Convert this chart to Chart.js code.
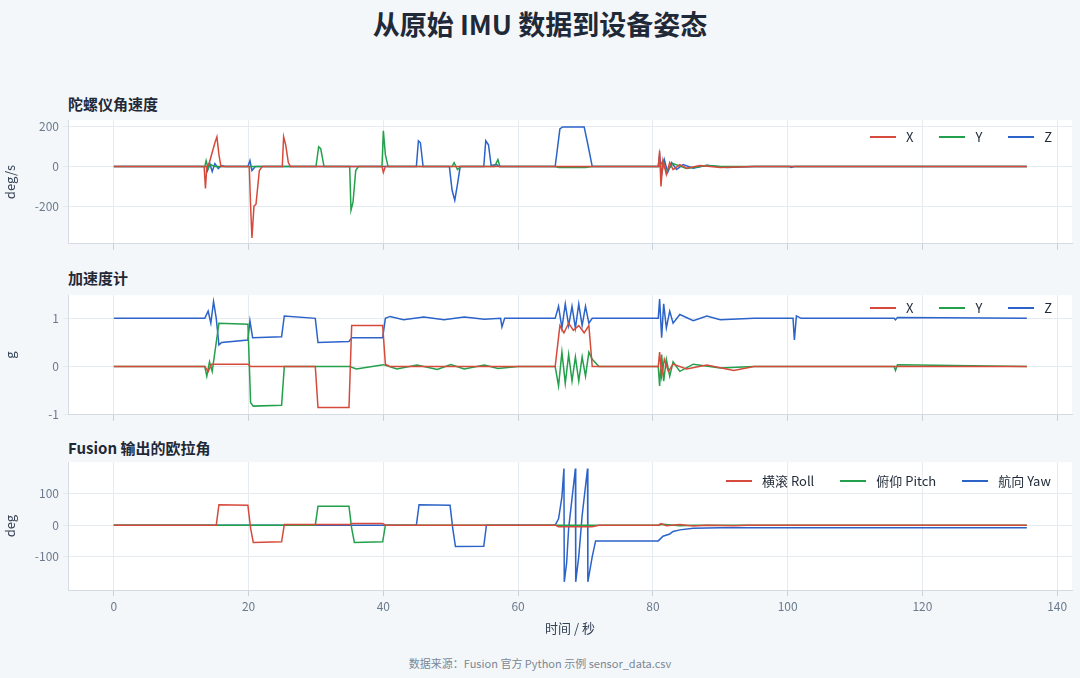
<!DOCTYPE html>
<html><head><meta charset="utf-8">
<script src="https://cdn.jsdelivr.net/npm/chart.js@4.4.1/dist/chart.umd.min.js"></script>
<style>
body{margin:0;width:1080px;height:678px;background:#f4f7fa;font-family:"Noto Sans CJK SC","Noto Sans",sans-serif;position:relative;overflow:hidden}
.box{position:absolute;left:0;width:1080px}
.t{position:absolute;left:68px;font-weight:bold;font-size:15px;color:#1f2937}
.lg{position:absolute;font-size:13px;color:#1f2937;display:flex;gap:26px}
.lg span{display:flex;align-items:center}
.lg i{display:inline-block;width:26px;height:2px;margin-right:10px}
</style></head><body>
<div style="position:absolute;top:4px;width:1080px;text-align:center;font-size:27px;font-weight:bold;color:#1f2937">从原始 IMU 数据到设备姿态</div>
<div class="t" style="top:93px">陀螺仪角速度</div>
<div class="t" style="top:267px">加速度计</div>
<div class="t" style="top:437px">Fusion 输出的欧拉角</div>
<div class="box" style="top:109px;height:146px"><canvas id="c1"></canvas></div>
<div class="box" style="top:284px;height:142px"><canvas id="c2"></canvas></div>
<div class="box" style="top:451px;height:189px"><canvas id="c3"></canvas></div>
<div class="lg" style="top:127px;left:870px"><span><i style="background:#d64a3b"></i>X</span><span><i style="background:#22a04b"></i>Y</span><span><i style="background:#2b63c9"></i>Z</span></div>
<div class="lg" style="top:298px;left:870px"><span><i style="background:#d64a3b"></i>X</span><span><i style="background:#22a04b"></i>Y</span><span><i style="background:#2b63c9"></i>Z</span></div>
<div class="lg" style="top:471px;left:726px"><span><i style="background:#d64a3b"></i>横滚 Roll</span><span><i style="background:#22a04b"></i>俯仰 Pitch</span><span><i style="background:#2b63c9"></i>航向 Yaw</span></div>
<div style="position:absolute;top:655px;width:1080px;text-align:center;font-size:11px;color:#7b8794">数据来源：Fusion 官方 Python 示例 sensor_data.csv</div>
<script>
const gxT=[0,13.4,13.6,13.8,14.1,15,15.3,15.6,15.9,16.3,20.1,20.3,20.5,20.8,21.1,21.6,22,25,25.2,25.5,25.9,26.2,39.8,40,40.3,80.8,81,81.2,81.5,82,82.5,83,84,85,87,90,95,135.5];
const gxV=[0,0,-110,0,10,120,150,60,0,0,0,-200,-360,-200,-190,-20,0,0,150,110,20,0,0,-30,0,0,80,-100,30,-40,20,-15,10,-8,5,-5,0,0];
const gyT=[0,13.5,13.7,14,14.3,15,30,30.4,30.7,31.2,35,35.2,35.5,35.9,36.3,39.8,40,40.3,40.7,41,50.2,50.5,51,51.5,56.5,57,57.3,65.5,66,70,71,81,81.5,82,83,85,88,90,135.5];
const gyV=[0,0,30,-10,10,0,0,100,90,0,0,-220,-180,-20,0,0,180,60,0,0,0,20,-15,0,0,35,0,0,-5,-5,0,0,30,-25,15,-10,5,0,0];
const gzT=[0,13.7,13.9,14.2,14.6,15,15.5,16,16.5,19.9,20.2,20.5,21,44.9,45.2,45.5,45.9,49.8,50.2,50.6,51,51.4,54.9,55.2,55.6,56,56.8,57.2,65.5,66.2,66.6,69.8,70.3,71,80.8,81,81.3,81.7,82.2,82.8,83.5,84.5,86,88,91,95,100.3,100.5,101,135.5];
const gzV=[0,0,-20,20,-25,15,-10,5,0,0,30,-20,0,0,130,120,0,0,-120,-170,-90,0,0,130,110,5,10,0,0,190,200,200,120,0,0,60,-40,35,-30,20,-15,10,-8,6,-5,0,0,-5,0,0];
const axT=[0,13.5,14,14.5,15.5,16,19.9,20.3,29.9,30.3,34.9,35.3,39.9,40.3,41,65.5,66.2,66.8,67.5,68.2,69,69.8,70.5,71,80.8,81,81.3,81.7,82.3,83,85,88,92,95,135.5];
const axV=[0,0,-0.1,0.05,0.05,0.05,0.05,0,0,-0.85,-0.85,0.85,0.85,0.05,0,0,0.85,0.7,0.9,0.75,0.85,0.7,0.85,0,0,0.3,-0.2,0.15,-0.1,0.05,-0.05,0.03,-0.08,0,0];
const ayT=[0,13.5,13.8,14.2,14.6,15.2,15.6,19.9,20.3,20.7,24.9,25.3,35,36,40,42,45,48,50,52,55,57,60,65.5,66,66.5,67,67.5,68,68.5,69,69.5,70,70.5,71,72,80.8,81,81.3,81.6,82,82.5,83,84,86,90,95,115.8,116,116.3,135.5];
const ayV=[0,0,-0.2,0.1,-0.1,0.5,0.9,0.88,-0.75,-0.82,-0.8,0,0,-0.05,0.04,-0.05,0.03,-0.06,0.04,-0.05,0.03,-0.04,0,0,-0.4,0.3,-0.35,0.25,-0.3,0.2,-0.3,0.2,-0.2,0.3,0.15,0,0,-0.4,0.25,-0.3,0.15,-0.2,0.1,-0.1,0.05,-0.03,0,0,-0.08,0.04,0];
const azT=[0,13.5,14,14.4,14.8,15.2,15.6,16,19.9,20.2,20.6,24.9,25.3,29.9,30.3,34.9,35.3,39.9,40.3,41,43,46,49,52,55,57.4,57.6,58,65.5,66,66.5,67,67.5,68,68.5,69,69.5,70,70.5,71,80.8,81,81.3,81.6,82,82.5,83,84,86,88,90,95,100.8,101,101.3,102,115.8,116,116.3,135.5];
const azV=[1,1,1.15,0.9,1.35,1.0,0.45,0.5,0.55,0.95,0.6,0.62,1.05,1.0,0.5,0.52,0.6,0.6,1.0,1.04,0.97,1.03,0.97,1.03,0.98,1.0,0.82,1.0,1.0,1.25,0.8,1.3,0.85,1.25,0.8,1.3,0.85,1.25,0.9,1.0,1.0,1.4,0.6,1.3,0.8,1.15,0.9,1.08,0.95,1.05,0.97,1.0,1.0,0.55,1.05,1.0,1.0,0.97,1.02,1.0];
const frT=[0,15.2,15.6,19.9,20.3,20.7,24.9,25.3,35,35.4,39.9,40.3,65.5,66,71,72,80.8,81.2,82,84,86,88,92,94,135.5];
const frV=[0,0,65,63,-10,-55,-53,2,2,5,5,0,0,-5,-5,0,0,5,-2,2,-3,0,-2,0,0];
const fpT=[0,29.9,30.3,34.9,35.3,35.7,39.9,40.3,80.8,81.5,84,86,135.5];
const fpV=[0,0,60,60,-10,-55,-53,0,0,3,-2,0,0];
const fyT=[0,44.9,45.3,49.9,50.3,50.7,54.9,55.3,65.5,66,66.5,66.8,66.85,67.2,67.5,68.5,68.55,69,69.5,70.3,70.35,71,71.5,80.8,81.5,82.5,83,84,86,90,135.5];
const fyV=[0,0,65,63,-10,-68,-67,0,0,20,90,180,-180,-120,-10,180,-180,-100,30,180,-180,-100,-50,-50,-35,-28,-20,-15,-10,-8,-8];
const xTicks=[0,20,40,60,80,100,120,140];
const gyroTicks=[-200,0,200], accTicks=[-1,0,1], eulerTicks=[-100,0,100];

const RED='#d64a3b',GREEN='#22a04b',BLUE='#2b63c9',GRID='#e6ebf0',TICK='#6b7a8c';
const zip=(t,v)=>t.map((x,i)=>({x,y:v[i]}));
const ds=(t,v,c)=>({data:zip(t,v),borderColor:c,borderWidth:1.5,pointRadius:0,tension:0,fill:false});
const font={family:'"Noto Sans CJK SC","Noto Sans",sans-serif',size:12};
const bg={id:'bg',beforeDraw(c){const a=c.chartArea,x=c.ctx;x.save();x.fillStyle='#ffffff';x.fillRect(a.left,a.top,a.right-a.left,a.bottom-a.top);x.restore();}};
function make(id,sets,ymin,ymax,ticks,ytitle,showX,pad){
  new Chart(document.getElementById(id),{type:'line',data:{datasets:sets},plugins:[bg],
   options:{animation:false,responsive:true,maintainAspectRatio:false,
    layout:{padding:{top:pad,bottom:showX?0:2,right:8,left:0}},
    plugins:{legend:{display:false},tooltip:{enabled:false}},
    scales:{
     x:{type:'linear',min:-6.8,max:142.2,afterBuildTicks:a=>{a.ticks=xTicks.map(v=>({value:v}));},
        grid:{color:GRID,tickColor:'#c8d0d8',tickLength:6},border:{color:'#d5dbe2'},
        ticks:{display:showX,color:TICK,font:font},
        title:{display:showX,text:'时间 / 秒',color:'#334155',font:{...font,size:13}}},
     y:{min:ymin,max:ymax,afterBuildTicks:a=>{a.ticks=ticks.map(v=>({value:v}));},
        afterFit:a=>{a.width=68;},
        grid:{color:GRID,tickLength:5},border:{color:'#d5dbe2'},
        ticks:{color:TICK,font:font,padding:4},
        title:{display:true,text:ytitle,color:'#334155',font:{...font,size:13},padding:2}}
    }}});
}
make('c1',[ds(gxT,gxV,RED),ds(gyT,gyV,GREEN),ds(gzT,gzV,BLUE)],-390,234,gyroTicks,'deg/s',false,8);
make('c2',[ds(axT,axV,RED),ds(ayT,ayV,GREEN),ds(azT,azV,BLUE)],-1,1.48,accTicks,'g',false,8);
make('c3',[ds(frT,frV,RED),ds(fpT,fpV,GREEN),ds(fyT,fyV,BLUE)],-206,200,eulerTicks,'deg',true,8);
</script></body></html>
